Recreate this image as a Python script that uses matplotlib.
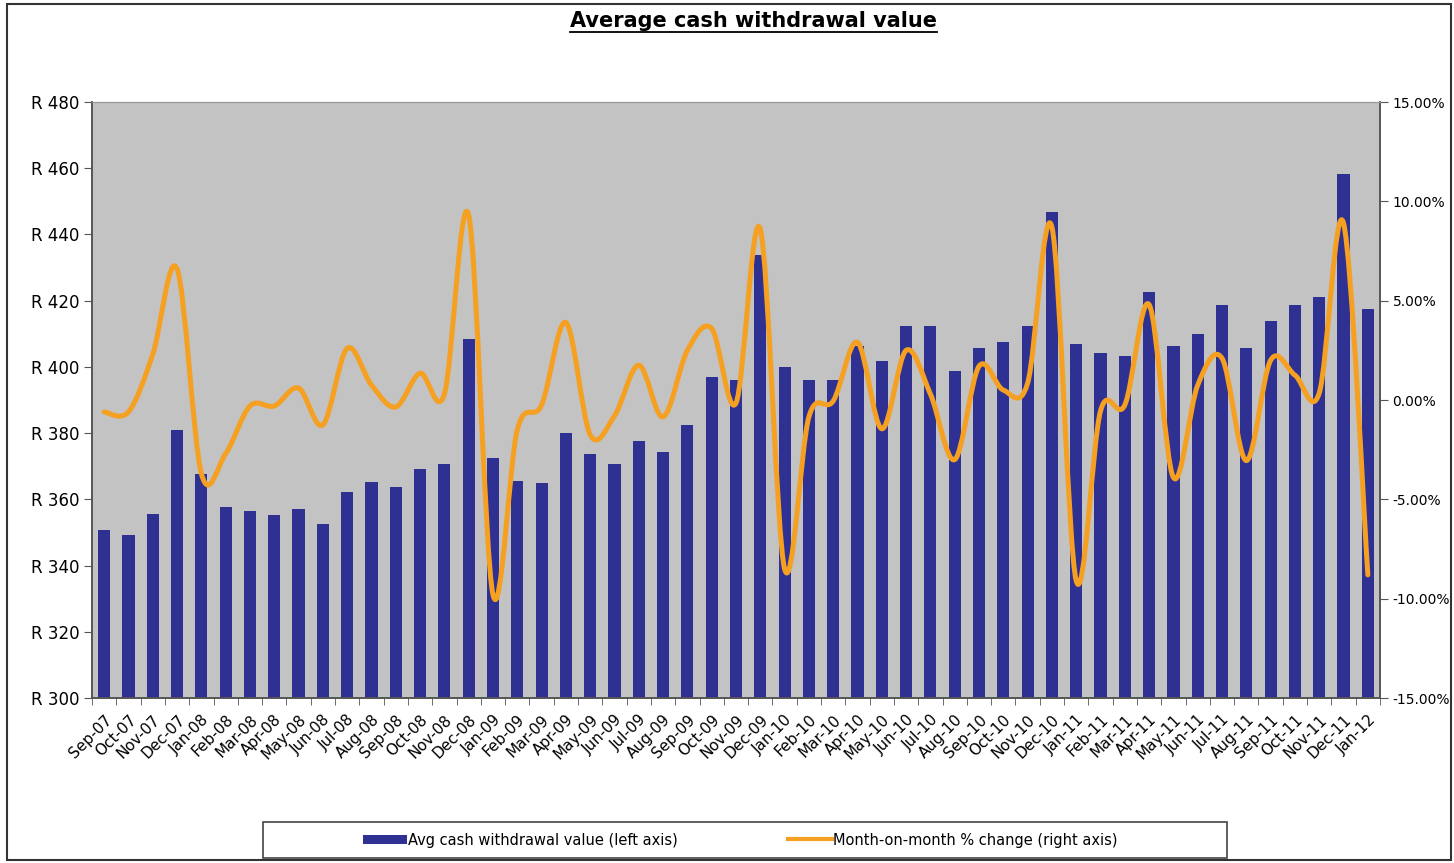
import numpy as np
import matplotlib
matplotlib.use("Agg")
import matplotlib.pyplot as plt
from matplotlib.path import Path
from matplotlib.patches import PathPatch, Patch, Rectangle
from matplotlib.lines import Line2D

months = [
    "Sep-07", "Oct-07", "Nov-07", "Dec-07",
    "Jan-08", "Feb-08", "Mar-08", "Apr-08", "May-08", "Jun-08",
    "Jul-08", "Aug-08", "Sep-08", "Oct-08", "Nov-08", "Dec-08",
    "Jan-09", "Feb-09", "Mar-09", "Apr-09", "May-09", "Jun-09",
    "Jul-09", "Aug-09", "Sep-09", "Oct-09", "Nov-09", "Dec-09",
    "Jan-10", "Feb-10", "Mar-10", "Apr-10", "May-10", "Jun-10",
    "Jul-10", "Aug-10", "Sep-10", "Oct-10", "Nov-10", "Dec-10",
    "Jan-11", "Feb-11", "Mar-11", "Apr-11", "May-11", "Jun-11",
    "Jul-11", "Aug-11", "Sep-11", "Oct-11", "Nov-11", "Dec-11",
    "Jan-12",
]

# average cash withdrawal (Rand), left axis
avg_withdrawal = [
    350.7, 349.1, 355.7, 381.0,
    367.7, 357.8, 356.6, 355.2, 357.2, 352.7,
    362.3, 365.3, 363.8, 369.2, 370.8, 408.5,
    372.6, 365.6, 365.0, 380.0, 373.8, 370.8,
    377.6, 374.4, 382.6, 396.8, 395.9, 433.9,
    400.1, 395.9, 395.9, 406.3, 401.9, 412.3,
    412.3, 398.9, 405.7, 407.5, 412.3, 446.8,
    406.9, 404.3, 403.4, 422.5, 406.3, 409.9,
    418.7, 405.7, 413.8, 418.7, 421.1, 458.2,
    417.5,
]

# month-on-month % change, right axis
mom_change = [
    -0.6, -0.6, 2.3, 6.6,
    -3.7, -2.7, -0.3, -0.3, 0.6, -1.25,
    2.6, 0.75, -0.35, 1.35, 0.3, 9.3,
    -9.8, -1.5, -0.25, 3.9, -1.75, -0.8,
    1.75, -0.85, 2.5, 3.6, -0.15, 8.6,
    -8.5, -0.85, -0.05, 2.9, -1.45, 2.5,
    0.3, -3.0, 1.7, 0.5, 0.85, 8.7,
    -9.1, -0.55, -0.25, 4.8, -3.9, 0.75,
    2.1, -3.05, 2.0, 1.25, 0.35, 8.9,
    -8.8,
]

left_ticks = [300, 320, 340, 360, 380, 400, 420, 440, 460, 480]
right_ticks = [-15, -10, -5, 0, 5, 10, 15]

BAR_COLOR = "#2E3192"
LINE_COLOR = "#F5A021"
W, H = 1454, 863


def smooth_path(x, y):
    # excel-style smoothed line as bezier segments through the points
    n = len(x)
    verts = [(x[0], y[0])]
    codes = [Path.MOVETO]
    for i in range(n - 1):
        a = i - 1 if i > 0 else i
        d = i + 2 if i + 2 < n else i + 1
        c1 = (x[i] + (x[i + 1] - x[a]) / 6, y[i] + (y[i + 1] - y[a]) / 6)
        c2 = (x[i + 1] - (x[d] - x[i]) / 6, y[i + 1] - (y[d] - y[i]) / 6)
        verts += [c1, c2, (x[i + 1], y[i + 1])]
        codes += [Path.CURVE4] * 3
    return Path(verts, codes)


fig = plt.figure(figsize=(W / 100, H / 100), dpi=100)
ax = fig.add_axes([92 / W, 1 - 698 / H, (1380 - 92) / W, (698 - 102) / H])
ax2 = ax.twinx()

x = np.arange(len(months))

ax.set_facecolor("#C3C3C3")
ax.bar(x, avg_withdrawal, width=0.5, color=BAR_COLOR, zorder=2)
ax.set_ylim(300, 480)
ax.set_xlim(-0.5, len(months) - 0.5)
ax.set_yticks(left_ticks)
ax.set_yticklabels([f"R {v}" for v in left_ticks], fontsize=12)

ax.set_xticks(x)
ax.set_xticklabels(months, rotation=45, ha="right", rotation_mode="anchor", fontsize=11)
ax.set_xticks(np.arange(len(months) + 1) - 0.5, minor=True)
ax.tick_params(axis="x", which="major", length=0, pad=10)
ax.tick_params(axis="x", which="minor", length=5, color="#555555")
ax.tick_params(axis="y", length=6, color="#555555", pad=3)

patch = PathPatch(smooth_path(x, mom_change), fill=False, edgecolor=LINE_COLOR,
                  lw=3.6, capstyle="round", joinstyle="round", zorder=3)
ax2.add_patch(patch)
ax2.set_ylim(-15, 15)
ax2.set_yticks(right_ticks)
ax2.set_yticklabels([f"{v:.2f}%" for v in right_ticks], fontsize=10)
ax2.tick_params(axis="y", length=6, color="#555555", pad=3)

for a in (ax, ax2):
    for side in ("left", "right", "bottom"):
        a.spines[side].set_color("#555555")
        a.spines[side].set_linewidth(1.2)
    a.spines["top"].set_color("#999999")

# title with underline
title = fig.text(753 / W, 1 - 21 / H, "Average cash withdrawal value", ha="center", va="center",
                 fontsize=15, fontweight="bold")
fig.canvas.draw()
bb = title.get_window_extent()
fig.add_artist(Line2D([bb.x0 / W, bb.x1 / W], [(bb.y0 - 1) / H] * 2,
                      transform=fig.transFigure, color="black", lw=1.3))

# legend: one wide frame, two entries placed like the original
fig.add_artist(Rectangle((263 / W, 1 - 858 / H), (1227 - 263) / W, 36 / H,
                         transform=fig.transFigure, facecolor="white", edgecolor="#444444", lw=1.2))
leg_y = 1 - 840 / H
fig.legend([Patch(facecolor=BAR_COLOR)], ["Avg cash withdrawal value (left axis)"],
           loc="center left", bbox_to_anchor=(363 / W, leg_y), frameon=False, fontsize=10.5,
           borderpad=0, borderaxespad=0, handlelength=3, handleheight=0.55, handletextpad=0.1)
fig.legend([Line2D([], [], color=LINE_COLOR, lw=3)], ["Month-on-month % change (right axis)"],
           loc="center left", bbox_to_anchor=(788 / W, leg_y), frameon=False, fontsize=10.5,
           borderpad=0, borderaxespad=0, handlelength=3, handletextpad=0.1)

# outer border
fig.add_artist(Rectangle((7 / W, 3 / H), 1444 / W, 856 / H, transform=fig.transFigure,
                         fill=False, edgecolor="#333333", lw=1.5))

fig.savefig("out.png", dpi=100)
plt.close(fig)
